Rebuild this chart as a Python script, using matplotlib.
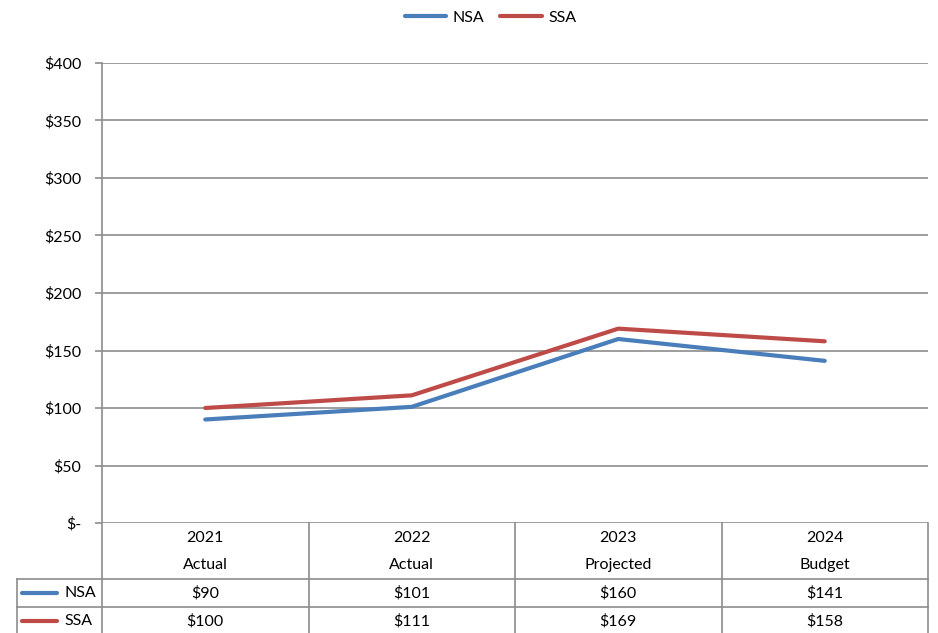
import matplotlib.pyplot as plt
from matplotlib.lines import Line2D

plt.rcParams['font.family'] = ['Lato', 'DejaVu Sans']

years = ['2021', '2022', '2023', '2024']
kinds = ['Actual', 'Actual', 'Projected', 'Budget']
nsa = [90, 101, 160, 141]
ssa = [100, 111, 169, 158]
series = [('NSA', nsa, '#4a7ebb'), ('SSA', ssa, '#be4b48')]
yticks = [0, 50, 100, 150, 200, 250, 300, 350, 400]

FS = 11.5
W, H = 938, 633
fig = plt.figure(figsize=(W / 100, H / 100), dpi=100)
x0, x1, ytop, ybot = 102, 928, 63, 523
ax = fig.add_axes([x0 / W, 1 - ybot / H, (x1 - x0) / W, (ybot - ytop) / H])
ax.set_xlim(0, len(years))
ax.set_ylim(0, 400)

grid = '#8c8c8c'
for v in yticks:
    ax.axhline(v, color=grid, lw=1.2, zorder=1)
for s in ax.spines.values():
    s.set_visible(False)
ax.set_xticks([])
ax.set_yticks(yticks)
ax.set_yticklabels(['$-' if v == 0 else f'${v}' for v in yticks])
ax.tick_params(axis='y', length=5, width=1.2, color=grid, labelsize=FS, pad=10)

xs = [i + 0.5 for i in range(len(years))]
for name, vals, c in series:
    ax.plot(xs, vals, color=c, lw=3, solid_capstyle='round', zorder=3, label=name)

# data table under the plot, y in axes fraction
px = 1.0 / (ybot - ytop)
unit = (x1 - x0) / len(years)
xl = -(x0 - 17) / unit
trans = ax.get_xaxis_transform()
kw = dict(transform=trans, clip_on=False, color=grid, lw=1.2)
hdr = -56 * px
r1 = hdr - 28 * px
ax.plot([0, 0], [1, -0.3], **kw)
for i in range(1, len(years) + 1):
    ax.plot([i, i], [0, -0.3], **kw)
ax.plot([xl, len(years)], [hdr, hdr], **kw)
ax.plot([xl, len(years)], [r1, r1], **kw)
ax.plot([xl, xl], [hdr, -0.3], **kw)

for i, (yr, k) in enumerate(zip(years, kinds)):
    ax.text(i + 0.5, -15 * px, yr, transform=trans, ha='center', va='center', fontsize=FS)
    ax.text(i + 0.5, -42 * px, k, transform=trans, ha='center', va='center', fontsize=FS)

for row, (name, vals, c) in enumerate(series):
    yc = hdr - (14 + 28 * row) * px
    ax.plot([xl + 5 / unit, xl + 40 / unit], [yc, yc], transform=trans, clip_on=False,
            color=c, lw=3, solid_capstyle='round')
    ax.text(xl + 47 / unit, yc, name, transform=trans, ha='left', va='center', fontsize=FS)
    for i, v in enumerate(vals):
        ax.text(i + 0.5, yc, f'${v}', transform=trans, ha='center', va='center', fontsize=FS)

handles = [Line2D([], [], color=c, lw=3, solid_capstyle='round') for _, _, c in series]
fig.legend(handles, [n for n, _, _ in series], loc='center', bbox_to_anchor=(0.523, 1 - 18 / H),
           ncol=2, frameon=False, fontsize=FS, handlelength=2.6, columnspacing=1.0,
           handletextpad=0.4)

fig.savefig('out.png', dpi=100)
